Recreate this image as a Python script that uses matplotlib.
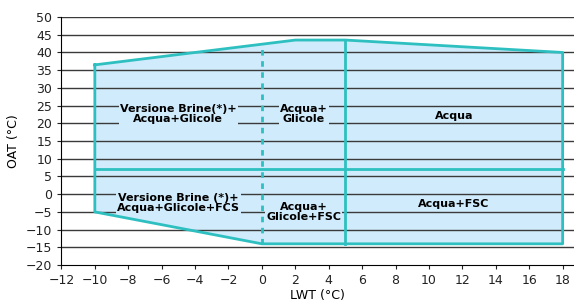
import matplotlib.pyplot as plt
import numpy as np

# envelope outline (LWT, OAT)
lwt = [-10, 2, 5, 18, 18, 0, -10]
oat = [36.5, 43.5, 43.5, 40, -14, -14, -5]

split_oat = 7          # horizontal separation (FSC / no FSC)
dash_lwt = 0           # dashed vertical split
solid_lwt = 5          # solid vertical split

labels = ["Versione Brine(*)+\nAcqua+Glicole", "Acqua+\nGlicole", "Acqua",
          "Versione Brine (*)+\nAcqua+Glicole+FCS", "Acqua+\nGlicole+FSC", "Acqua+FSC"]
label_x = [-5, 2.5, 11.5, -5, 2.5, 11.5]
label_y = [22.5, 22.5, 22, -2.5, -5, -2.8]

teal = '#2ec0c0'
fill = '#d0ebfb'

fig = plt.figure(figsize=(5.74, 3.04), dpi=100)
ax = fig.add_axes([0.107, 0.128, 0.893, 0.816])
ax.set_xlim(-12, 18.68)
ax.set_ylim(-20, 50)

ax.fill(lwt, oat, color=fill, zorder=1, lw=0)
for v in range(-15, 51, 5):
    ax.axhline(v, color='#3a3a3a', lw=1, zorder=2)
ax.plot(lwt + [lwt[0]], oat + [oat[0]], color=teal, lw=2, zorder=3)

# top edge value at a given LWT
def top_at(x):
    return float(np.interp(x, lwt[:4], oat[:4]))

ax.plot([dash_lwt, dash_lwt], [-14, top_at(dash_lwt)], color=teal, lw=2, ls=(0, (2, 2)), zorder=3)
ax.plot([solid_lwt, solid_lwt], [-14, top_at(solid_lwt)], color=teal, lw=2, zorder=3)
ax.plot([-10, 18], [split_oat, split_oat], color=teal, lw=2, zorder=3)

for t, x, y in zip(labels, label_x, label_y):
    ax.text(x, y, t, ha='center', va='center', fontsize=8, fontweight='bold',
            linespacing=1.0, zorder=4,
            bbox=dict(boxstyle='square,pad=0.1', fc=fill, ec='none'))

ax.set_xticks(range(-12, 19, 2))
ax.set_yticks(range(-20, 51, 5))
ax.tick_params(labelsize=9, colors='#222222', length=3)
for s in ['top', 'right']:
    ax.spines[s].set_visible(False)
ax.set_xlabel('LWT (°C)', fontsize=9, labelpad=1)
ax.set_ylabel('OAT (°C)', fontsize=9, labelpad=4)

plt.savefig('out.png', dpi=100)
